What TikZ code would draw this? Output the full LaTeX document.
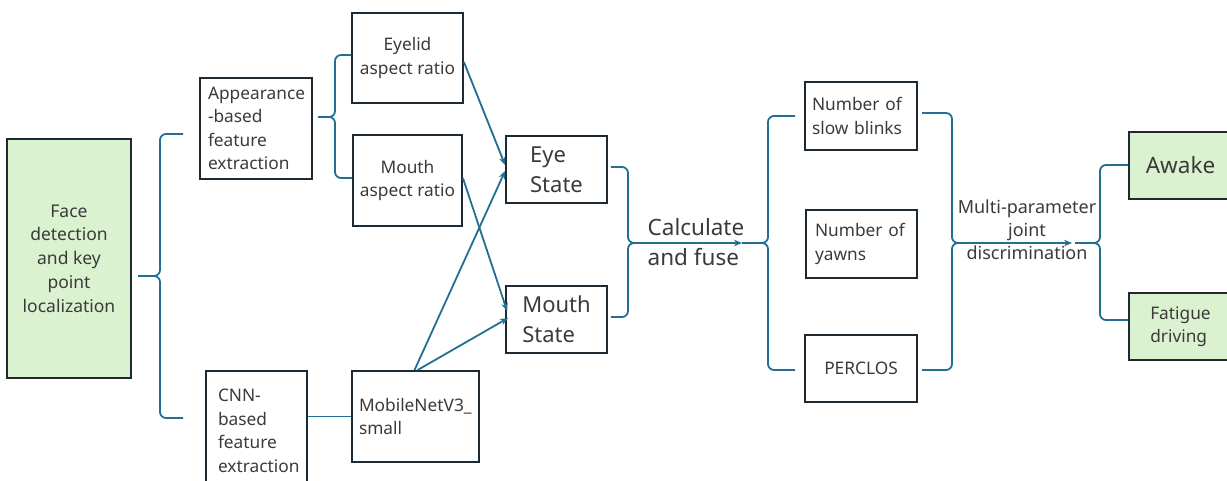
\documentclass[tikz,border=0pt]{standalone}
\usepackage{fontspec}
\setmainfont{Noto Sans}
\usetikzlibrary{arrows.meta}
\definecolor{lineblue}{HTML}{236F93}
\definecolor{boxline}{HTML}{1E2A33}
\definecolor{txt}{HTML}{3A3A3A}
\definecolor{lgreen}{HTML}{DAF2D0}
\tikzset{
  box/.style={draw=boxline, line width=1.8pt, rectangle, inner sep=0pt, text=txt,
    font=\fontsize{17.3}{23.5}\selectfont},
  gbox/.style={box, fill=lgreen},
  big/.style={font=\fontsize{22}{30}\selectfont},
  link/.style={draw=lineblue, line width=1.8pt},
  arr/.style={link, -{Stealth[length=8pt,width=6.5pt]}},
  brace/.style={link, rounded corners=6pt},
  lbl/.style={text=txt, inner sep=0pt},
}
\begin{document}
\begin{tikzpicture}[x=1pt,y=-1pt]
\useasboundingbox (0,0) rectangle (1227,481);
% nodes
\node[gbox, minimum width=124pt, minimum height=239pt, align=center,
  font=\fontsize{17.5}{23.7}\selectfont] (face) at (69,258.5)
  {Face\\detection\\and key\\point\\localization};
\node[box, minimum width=112pt, minimum height=101pt, text width=96pt, align=left] (app) at (256,128.5)
  {Appearance\\-based\\feature\\extraction};
\node[box, minimum width=101pt, minimum height=120pt, text width=77pt, align=left] (cnn) at (256.5,431)
  {CNN-\\based\\feature\\extraction};
\node[box, minimum width=111pt, minimum height=90pt, align=center] (eyelid) at (407.5,58)
  {Eyelid\\aspect ratio};
\node[box, minimum width=109pt, minimum height=91pt, align=center] (mar) at (407.5,180.5)
  {Mouth\\aspect ratio};
\node[box, minimum width=127pt, minimum height=91pt, text width=113pt, align=left] (mob) at (415.5,416.5)
  {MobileNetV3\_\\small};
\node[box, big, minimum width=101pt, minimum height=67pt, align=left] (eye) at (556.5,169.5) {Eye\\State};
\node[box, big, minimum width=101pt, minimum height=67pt, align=left] (ms) at (556.5,319.5) {Mouth\\State};
\node[lbl, align=left, font=\fontsize{22.5}{30}\selectfont] (calc) at (696,242)
  {Calculate\\and fuse};
\node[box, minimum width=112pt, minimum height=68pt, text width=98pt, align=left] (slow) at (861,116)
  {Number of\\slow blinks};
\node[box, minimum width=111pt, minimum height=68pt, text width=93pt, align=left] (yawn) at (861.5,244)
  {Number of\\yawns};
\node[box, minimum width=112pt, minimum height=67pt] (perc) at (861,368.5) {PERCLOS};
\node[lbl, align=center, font=\fontsize{18}{23}\selectfont] (multi) at (1027,230)
  {Multi-parameter\\joint\\discrimination};
\node[gbox, minimum width=103pt, minimum height=67pt, font=\fontsize{22.5}{30}\selectfont]
  (awake) at (1180.5,165.5) {Awake};
\node[gbox, minimum width=103pt, minimum height=67pt, align=left] (fat) at (1180.5,326.5)
  {Fatigue\\driving};
% brace coordinates
\coordinate (b1t) at (138,276);
\coordinate (b2t) at (318,117);
\coordinate (b3t) at (633,243);
\coordinate (b4t) at (742,243);
\coordinate (b5t) at (958,243);
\coordinate (b6t) at (1075,243);
% brace 1
\draw[brace] (183,134) -- (160,134) -- (160,276) -- (b1t);
\draw[brace] (183,418) -- (160,418) -- (160,276) -- (b1t);
% brace 2
\draw[brace] (eyelid.west |- 0,55) -- (335,55) -- (335,117) -- (b2t);
\draw[brace] (mar.west |- 0,178) -- (335,178) -- (335,117) -- (b2t);
% cnn -> mobilenet
\draw[link] (cnn.east |- mob.west) -- (mob.west);
% arrows into states
\draw[arr] (eyelid.east |- 0,62) -- (eye.west |- 0,165);
\draw[arr] (mar.east |- 0,178) -- ([xshift=2pt]ms.west |- 0,311);
\draw[arr] ([xshift=-1pt]mob.north) -- (eye.west |- 0,171);
\draw[arr] ([xshift=2pt]mob.north) -- ([xshift=3pt]ms.west |- 0,318);
% brace 3 (right)
\draw[brace] ([xshift=3pt]eye.east |- 0,167) -- (628,167) -- (628,243) -- (b3t);
\draw[brace] ([xshift=3pt]ms.east |- 0,317) -- (628,317) -- (628,243) -- (b3t);
\draw[arr] (b3t) -- (b4t);
% brace 4 (left)
\draw[brace] (795,116) -- (768,116) -- (768,243) -- (b4t);
\draw[brace] (795,370) -- (768,370) -- (768,243) -- (b4t);
% brace 5 (right)
\draw[brace] (922,113) -- (952,113) -- (952,243) -- (b5t);
\draw[brace] (922,370) -- (952,370) -- (952,243) -- (b5t);
\draw[arr] (b5t) -- (1072,243);
% brace 6 (left)
\draw[brace] (awake.west |- 0,165) -- (1100,165) -- (1100,243) -- (b6t);
\draw[brace] (fat.west |- 0,320) -- (1100,320) -- (1100,243) -- (b6t);
\end{tikzpicture}
\end{document}
